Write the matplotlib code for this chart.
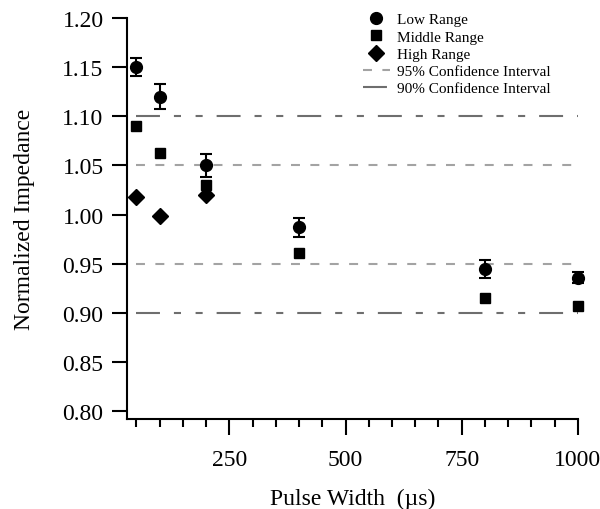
import matplotlib.pyplot as plt
from matplotlib.ticker import MultipleLocator

plt.rcParams['font.family'] = ['Liberation Serif', 'DejaVu Serif']

# Datos
pulse_width = [50, 100, 200, 400, 800, 1000]
low_range = [1.150, 1.120, 1.050, 0.987, 0.945, 0.936]
low_err = [0.009, 0.013, 0.012, 0.010, 0.009, 0.006]
mid_x = [50, 100, 200, 400, 800, 1000]
mid_range = [1.090, 1.063, 1.030, 0.961, 0.915, 0.907]
mid_err = [0.0, 0.0, 0.004, 0.0, 0.0, 0.0]
high_x = [50, 100, 200]
high_range = [1.018, 0.999, 1.020]
ci95 = [0.95, 1.05]
ci90 = [0.90, 1.10]
ci_x = [50, 1000]

fig = plt.figure(figsize=(6, 5.1), dpi=100)
ax = fig.add_axes([0.212, 0.176, 0.751, 0.787])

# Intervalos de confianza
for i, v in enumerate(ci95):
    ax.plot(ci_x, [v, v], color='#a3a3a3', lw=1.5, ls=(0, (4.3, 5.0)),
            label='95% Confidence Interval' if i == 0 else None, zorder=1)
for i, v in enumerate(ci90):
    ax.plot(ci_x, [v, v], color='#6e6e6e', lw=1.5, ls=(0, (11.5, 6.7, 3.4, 7.0, 3.4, 6.7)),
            label='90% Confidence Interval' if i == 0 else None, zorder=1)

# Barras de error (sin etiqueta) y marcadores
ax.errorbar(pulse_width, low_range, yerr=low_err, fmt='none', ecolor='black',
            capsize=4, elinewidth=1.5, capthick=1.5, zorder=3, clip_on=False)
ax.errorbar(mid_x, mid_range, yerr=mid_err, fmt='none', ecolor='black',
            capsize=0, elinewidth=6, zorder=3, clip_on=False)
ax.plot(pulse_width, low_range, 'o', color='black', ms=8.5, ls='none',
        label='Low Range', zorder=4, clip_on=False)
ax.plot(mid_x, mid_range, 's', color='black', ms=7.5, ls='none',
        label='Middle Range', zorder=4, clip_on=False)
ax.plot(high_x, high_range, 'D', color='black', ms=8, ls='none',
        label='High Range', zorder=4)

ax.set_xlim(30, 1000)
ax.set_ylim(0.792, 1.20)
ax.set_xticks([250, 500, 750, 1000])
ax.xaxis.set_minor_locator(MultipleLocator(50))
ax.set_yticks([0.80, 0.85, 0.90, 0.95, 1.00, 1.05, 1.10, 1.15, 1.20])
ax.set_yticklabels(['%.2f' % v for v in ax.get_yticks()])

ax.spines['top'].set_visible(False)
ax.spines['right'].set_visible(False)
ax.spines['left'].set_linewidth(1.5)
ax.spines['bottom'].set_linewidth(1.5)
ax.tick_params(axis='y', which='major', direction='out', length=11, width=1.5,
               labelsize=17, pad=6)
ax.tick_params(axis='x', which='major', direction='out', length=11.5, width=1.5,
               labelsize=17, pad=10)
ax.tick_params(axis='x', which='minor', direction='out', length=6, width=1.5)

ax.set_xlabel('Pulse Width  (µs)', fontsize=17, labelpad=13)
ax.set_ylabel('Normalized Impedance', fontsize=17, labelpad=20)

handles, labels = ax.get_legend_handles_labels()
order = [labels.index(l) for l in ['Low Range', 'Middle Range', 'High Range',
                                   '95% Confidence Interval', '90% Confidence Interval']]
ax.legend([handles[i] for i in order], [labels[i] for i in order],
          loc='upper right', bbox_to_anchor=(0.97, 1.047), frameon=False,
          fontsize=11, handlelength=1.8, handletextpad=0.45, labelspacing=0.23)

fig.savefig('out.png', dpi=100)
